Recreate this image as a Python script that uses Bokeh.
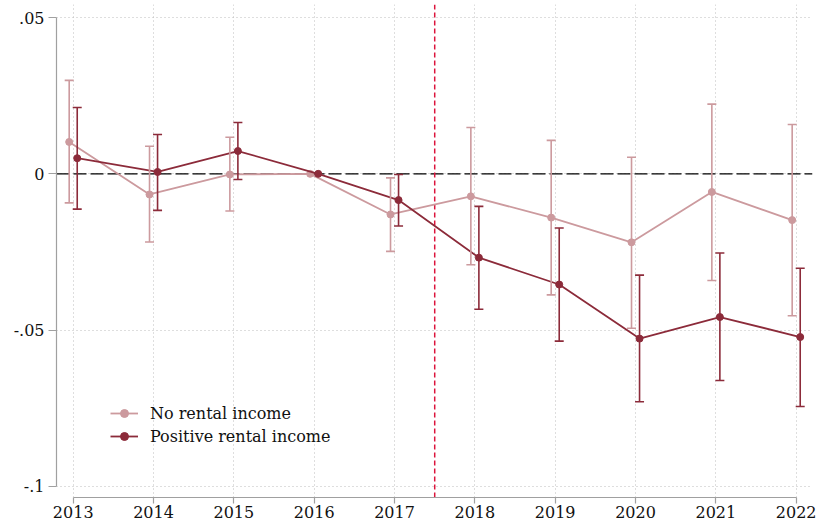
import numpy as np
from bokeh.plotting import figure
from bokeh.models import (ColumnDataSource, Range1d, FixedTicker, CustomJSTickFormatter,
                          Whisker, TeeHead, Span, Legend, LegendItem)
from bokeh.embed import file_html
from bokeh.resources import INLINE

# ---------------- data ----------------
years = [2013, 2014, 2015, 2016, 2017, 2018, 2019, 2020, 2021, 2022]

no_rental = [0.0102, -0.0066, -0.0002, 0.0, -0.0130, -0.0072, -0.0140, -0.0219, -0.0058, -0.0148]
no_rental_hi = [0.0299, 0.0088, 0.0117, None, -0.0013, 0.0148, 0.0107, 0.0053, 0.0223, 0.0158]
no_rental_lo = [-0.0093, -0.0218, -0.0119, None, -0.0248, -0.0291, -0.0387, -0.0494, -0.0341, -0.0454]

pos_rental = [0.0050, 0.0006, 0.0073, 0.0, -0.0084, -0.0268, -0.0354, -0.0527, -0.0458, -0.0522]
pos_rental_hi = [0.0212, 0.0126, 0.0164, None, -0.0002, -0.0104, -0.0173, -0.0324, -0.0253, -0.0302]
pos_rental_lo = [-0.0113, -0.0117, -0.0018, None, -0.0167, -0.0433, -0.0535, -0.0729, -0.0661, -0.0744]

y_ticks = [-0.1, -0.05, 0.0, 0.05]
treatment_line = 2017.5
series_names = ["No rental income", "Positive rental income"]

# ---------------- style ----------------
FONT = "DejaVu Serif"
LIGHT = "#CC9A9E"
DARK = "#8C2B3A"
AXIS_GRAY = "#A0A0A0"
DODGE = 0.05

p = figure(frame_width=756, frame_height=493, output_backend="svg", toolbar_location=None,
           x_range=Range1d(2012.792, 2022.203), y_range=Range1d(-0.10352, 0.05416),
           min_border_left=56, min_border_right=10, min_border_top=4, min_border_bottom=0)
p.outline_line_color = None
p.background_fill_color = "white"
p.border_fill_color = "white"

# axes
p.xaxis.ticker = FixedTicker(ticks=years)
p.yaxis.ticker = FixedTicker(ticks=y_ticks)
p.yaxis.formatter = CustomJSTickFormatter(code="""
if (Math.abs(tick) < 1e-9) { return "0"; }
let s = tick.toFixed(2).replace(/0+$/, "");
return s.replace("0.", ".");
""")
p.xaxis.bounds = (years[0], years[-1])
p.yaxis.bounds = (y_ticks[0], y_ticks[-1])
for ax in (p.xaxis, p.yaxis):
    ax.axis_line_color = AXIS_GRAY
    ax.axis_line_width = 1.2
    ax.major_tick_line_color = AXIS_GRAY
    ax.major_tick_line_width = 1.2
    ax.minor_tick_line_color = None
    ax.major_tick_in = 0
    ax.major_label_text_font = FONT
    ax.major_label_text_font_size = "16px"
    ax.major_label_text_color = "#111111"
p.xaxis.major_tick_out = 6
p.yaxis.major_tick_out = 8
p.xaxis.major_label_standoff = 2
p.yaxis.major_label_standoff = 4

# grid
for g in (p.xgrid, p.ygrid):
    g.grid_line_color = "#BDBDBD"
    g.grid_line_dash = "1 3"
    g.grid_line_width = 1

# reference lines
p.add_layout(Span(location=0, dimension="width", line_color="black", line_width=1.3,
                  line_dash="13 4", level="underlay"))
p.add_layout(Span(location=treatment_line, dimension="height", line_color="#DC143C",
                  line_width=1.5, line_dash="5 3", level="underlay"))

yrs = np.array(years, dtype=float)

def add_series(vals, hi, lo, offset, color):
    x = yrs + offset
    src = ColumnDataSource(dict(x=x, y=vals))
    idx = [i for i in range(len(years)) if hi[i] is not None]
    esrc = ColumnDataSource(dict(x=[x[i] for i in idx], upper=[hi[i] for i in idx],
                                 lower=[lo[i] for i in idx]))
    w = Whisker(base="x", upper="upper", lower="lower", source=esrc, dimension="height",
                line_color=color, line_width=1.6, level="glyph",
                upper_head=TeeHead(size=9, line_color=color, line_width=1.6),
                lower_head=TeeHead(size=9, line_color=color, line_width=1.6))
    p.add_layout(w)
    ln = p.line("x", "y", source=src, line_color=color, line_width=1.8)
    sc = p.scatter("x", "y", source=src, marker="circle", size=7, fill_color=color,
                   line_color=color)
    return ln, sc

l1, s1 = add_series(no_rental, no_rental_hi, no_rental_lo, -DODGE, LIGHT)
l2, s2 = add_series(pos_rental, pos_rental_hi, pos_rental_lo, DODGE, DARK)

legend = Legend(items=[LegendItem(label=series_names[0], renderers=[l1, s1]),
                       LegendItem(label=series_names[1], renderers=[l2, s2])],
                location=(54, 51), padding=0, margin=0, spacing=3,
                glyph_width=28, glyph_height=20, label_standoff=12,
                label_text_font=FONT, label_text_font_size="16px",
                label_text_color="#111111",
                border_line_color=None, background_fill_alpha=0)
p.add_layout(legend)

open("out.html", "w").write(file_html(p, INLINE))
